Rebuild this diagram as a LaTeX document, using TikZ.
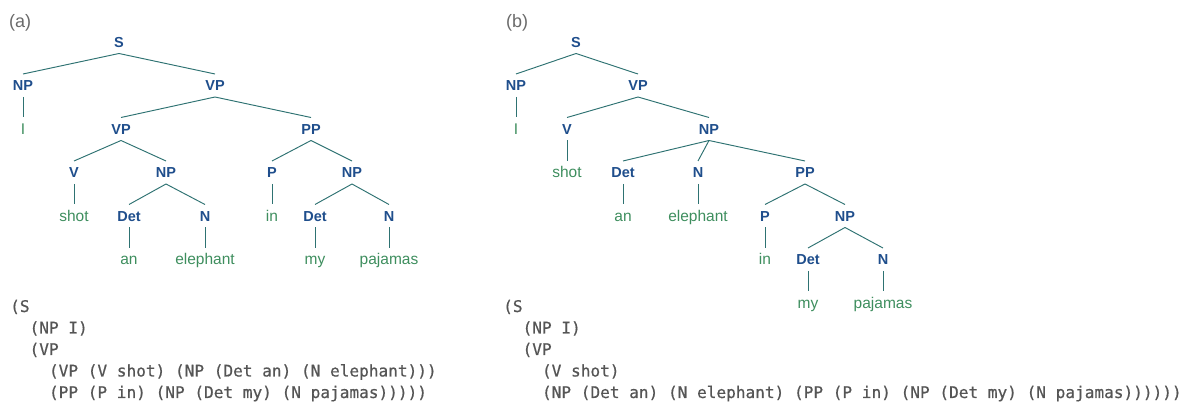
\documentclass[tikz,border=0pt]{standalone}
\usepackage{fontspec}
\setmainfont{Liberation Sans}
\newfontfamily\codefont{DejaVu Sans Mono}[FakeBold=0.6]
\usetikzlibrary{calc}

\definecolor{ntblue}{HTML}{1F4E8C}
\definecolor{termgreen}{HTML}{3E8E5E}
\definecolor{branchcol}{HTML}{2E7272}
\definecolor{codegray}{HTML}{555555}
\definecolor{panelgray}{HTML}{6A6A6A}

\tikzset{
  nt/.style={font=\fontsize{14.5}{16}\selectfont\bfseries, text=ntblue, inner sep=0pt, anchor=base},
  term/.style={font=\fontsize{15.5}{17}\selectfont, text=termgreen, inner sep=0pt, anchor=base},
  branch/.style={draw=branchcol, line width=0.95pt},
  code/.style={font=\fontsize{16.1}{18}\selectfont\codefont, text=codegray, inner sep=0pt, anchor=base west},
  panel/.style={font=\fontsize{18}{20}\selectfont, text=panelgray, inner sep=0pt, anchor=base west},
}

% branch from the bottom of a parent label to the top of a child label
\newcommand{\br}[2]{\draw[branch] ($(#1.base)+(0,6)$) -- ($(#2.base)+(0,-17)$);}

\begin{document}
\begin{tikzpicture}[x=1pt,y=-1pt]
\useasboundingbox (0,0) rectangle (1192,403);

% ---------------- tree (a): PP attached to the VP ----------------
\node[panel] (pa) at (9,28) {(a)};

\node[nt] (aS)    at (119,47.5) {S};
\node[nt] (aNP)   at (23,91)    {NP};
\node[nt] (aVP)   at (215,91)   {VP};
\node[term] (aI)  at (23,134.5) {I};
\node[nt] (aVP2)  at (121,134.5) {VP};
\node[nt] (aPP)   at (311,134.5) {PP};
\node[nt] (aV)    at (74,178)   {V};
\node[nt] (aNP2)  at (166,178)  {NP};
\node[nt] (aP)    at (272,178)  {P};
\node[nt] (aNP3)  at (352,178)  {NP};
\node[term] (ashot) at (74,221.5) {shot};
\node[nt] (aDet)  at (129,221.5) {Det};
\node[nt] (aN)    at (205,221.5) {N};
\node[term] (ain) at (272,221.5) {in};
\node[nt] (aDet2) at (315,221.5) {Det};
\node[nt] (aN2)   at (389,221.5) {N};
\node[term] (aan) at (129,265) {an};
\node[term] (aele) at (205,265) {elephant};
\node[term] (amy) at (315,265) {my};
\node[term] (apaj) at (389,265) {pajamas};

\br{aS}{aNP} \br{aS}{aVP}
\br{aNP}{aI}
\br{aVP}{aVP2} \br{aVP}{aPP}
\br{aVP2}{aV} \br{aVP2}{aNP2}
\br{aPP}{aP} \br{aPP}{aNP3}
\br{aV}{ashot}
\br{aNP2}{aDet} \br{aNP2}{aN}
\br{aP}{ain}
\br{aNP3}{aDet2} \br{aNP3}{aN2}
\br{aDet}{aan} \br{aN}{aele}
\br{aDet2}{amy} \br{aN2}{apaj}

% bracketed form of tree (a)
\node[code] (ac1) at (10,312)     {(S};
\node[code] (ac2) at (29.4,333.5) {(NP I)};
\node[code] (ac3) at (29.4,355)   {(VP};
\node[code] (ac4) at (48.8,376.5) {(VP (V shot) (NP (Det an) (N elephant)))};
\node[code] (ac5) at (48.8,398)   {(PP (P in) (NP (Det my) (N pajamas)))))};

% ---------------- tree (b): PP attached to the NP ----------------
\node[panel] (pb) at (506,28) {(b)};

\node[nt] (bS)    at (576,47.5) {S};
\node[nt] (bNP)   at (516,91)   {NP};
\node[nt] (bVP)   at (638,91)   {VP};
\node[term] (bI)  at (516,134.5) {I};
\node[nt] (bV)    at (567,134.5) {V};
\node[nt] (bNP2)  at (709,134.5) {NP};
\node[term] (bshot) at (567,178) {shot};
\node[nt] (bDet)  at (623,178)  {Det};
\node[nt] (bN)    at (698,178)  {N};
\node[nt] (bPP)   at (805,178)  {PP};
\node[term] (ban) at (623,221.5) {an};
\node[term] (bele) at (698,221.5) {elephant};
\node[nt] (bP)    at (765,221.5) {P};
\node[nt] (bNP3)  at (845,221.5) {NP};
\node[term] (bin) at (765,265) {in};
\node[nt] (bDet2) at (808,265)  {Det};
\node[nt] (bN2)   at (883,265)  {N};
\node[term] (bmy) at (808,308.5) {my};
\node[term] (bpaj) at (883,308.5) {pajamas};

\br{bS}{bNP} \br{bS}{bVP}
\br{bNP}{bI}
\br{bVP}{bV} \br{bVP}{bNP2}
\br{bV}{bshot}
\br{bNP2}{bDet} \br{bNP2}{bN} \br{bNP2}{bPP}
\br{bDet}{ban} \br{bN}{bele}
\br{bPP}{bP} \br{bPP}{bNP3}
\br{bP}{bin}
\br{bNP3}{bDet2} \br{bNP3}{bN2}
\br{bDet2}{bmy} \br{bN2}{bpaj}

% bracketed form of tree (b)
\node[code] (bc1) at (503,312)     {(S};
\node[code] (bc2) at (522.4,333.5) {(NP I)};
\node[code] (bc3) at (522.4,355)   {(VP};
\node[code] (bc4) at (541.8,376.5) {(V shot)};
\node[code] (bc5) at (541.8,398)   {(NP (Det an) (N elephant) (PP (P in) (NP (Det my) (N pajamas))))))};

\end{tikzpicture}
\end{document}
